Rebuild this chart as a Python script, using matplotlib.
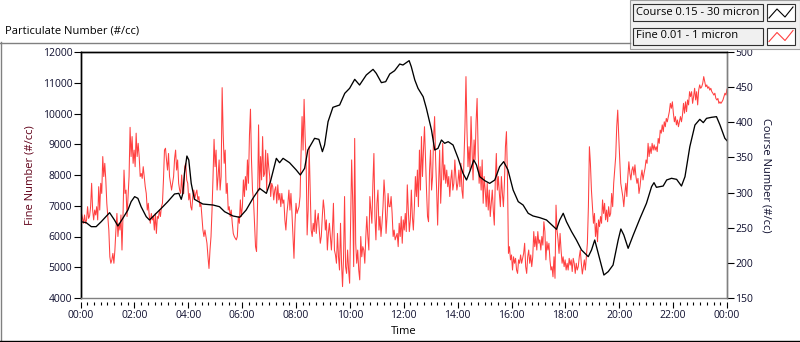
import matplotlib
matplotlib.use('Agg')
import matplotlib.pyplot as plt
from matplotlib.lines import Line2D
from matplotlib.patches import Rectangle
import numpy as np

plt.rcParams['font.family'] = ['Open Sans', 'DejaVu Sans']

# Fine particles (#/cc), left axis, evenly sampled over the day
fine = [
    6210, 6750, 6590, 6430, 6700, 6430, 6540, 6970, 6590, 6670, 6970, 7730, 6860, 6540, 6860, 6700,
    6970, 6540, 7620, 6860, 7730, 7400, 8600, 7950, 8380, 7840, 7080, 6650, 6210, 5340, 5130, 5240,
    5450, 5130, 5560, 6210, 6750, 6000, 6430, 6210, 6700, 5560, 6650, 8160, 7400, 7510, 6650, 7300,
    7950, 9550, 8600, 9250, 8380, 8810, 8270, 9360, 8600, 9030, 8600, 7950, 8050, 7890, 8270, 7950,
    7620, 7400, 6860, 7080, 6650, 6430, 6750, 6540, 6650, 6210, 6750, 6100, 6650, 6590, 6860, 6650,
    6970, 7080, 7840, 8810, 8870, 8490, 8160, 8700, 7950, 7730, 7510, 7730, 7950, 8540, 8810, 8160,
    8490, 7730, 7510, 7400, 8000, 7400, 7400, 8270, 8380, 7840, 7730, 7190, 7400, 6970, 6860, 7300,
    7510, 7240, 7400, 7510, 7190, 7300, 6970, 7080, 6650, 6210, 6000, 6210, 6000, 5780, 5340, 4960,
    5560, 6000, 6860, 7950, 9160, 8270, 8810, 7510, 7950, 8490, 7510, 7950, 10840, 9360, 8380, 8810,
    7400, 7730, 6860, 6970, 6650, 6860, 6430, 6100, 6000, 5940, 5890, 6000, 6650, 6430, 7190, 6650,
    6970, 7840, 7300, 7950, 7510, 8490, 7730, 9300, 10140, 8490, 7510, 7190, 6430, 5670, 5510, 7080,
    9630, 7510, 8600, 7840, 9250, 7950, 8050, 8810, 7510, 8700, 8270, 7950, 7300, 7730, 7620, 7190,
    7510, 7620, 7080, 7680, 7190, 7400, 6970, 7400, 7080, 7190, 6540, 6210, 6750, 7080, 7510, 6860,
    7400, 6750, 6000, 5290, 6430, 7080, 6750, 6860, 6970, 7300, 8700, 9900, 8810, 10460, 9250, 8490,
    6050, 6860, 8920, 7620, 6210, 6000, 6430, 6160, 6860, 6100, 6540, 6750, 6210, 5780, 6000, 6650,
    7190, 6860, 6210, 6540, 5560, 6100, 6430, 6000, 5560, 6210, 7080, 5560, 5400, 5130, 6100, 5340,
    4910, 6430, 5130, 4370, 5340, 7300, 5020, 4800, 5560, 4910, 4480, 6430, 8490, 7190, 5020, 9190,
    5780, 5130, 5560, 4910, 4590, 6000, 5340, 5670, 5560, 5130, 6000, 6650, 6000, 5560, 7300, 6860,
    6430, 7730, 8700, 6650, 5890, 7080, 7510, 6210, 6650, 6000, 6430, 6970, 7840, 7300, 6100, 6650,
    7400, 6970, 6970, 7300, 6750, 6000, 6210, 5890, 6000,
    6100, 5670, 6430, 6000, 6650, 5780, 6540, 6210, 6750, 6160, 7680, 6860, 6160, 6540, 7510, 6650,
    6210, 6970, 7950, 7300, 8160, 6970, 8810, 7510, 9250, 7950, 8810, 9570, 8490, 7510, 6650, 6480,
    8160, 8810, 7510, 7950, 9250, 9900, 8490, 7510, 6370, 7730, 8810, 7080, 7950, 9030, 7840, 8330,
    7730, 8160, 7620, 7950, 7300, 7840, 8160, 7510, 7730, 8490, 7950, 7510, 7730, 8160, 7620, 8380,
    7510, 7240, 8490, 9570, 11200, 9460, 8270, 8920, 8160, 9900, 8810, 7840, 9140, 8490, 9730, 10490,
    8810, 7730, 8270, 7510, 8490, 7080, 7950, 7510, 6970, 7730, 6860, 7510, 6650, 7080, 7510, 6860,
    6370, 7840, 8700, 7510, 7950, 7400, 6970, 7950, 7400, 6970, 7730, 8920, 9410, 7950, 5450, 5670,
    5240, 5400, 4910, 5340, 5130, 5290, 4910, 4800, 5240, 5130, 5400, 5130, 5290, 5450, 5780, 5020,
    4800, 5340, 5560, 5130, 5400, 5020, 5340, 6160, 5670, 6000, 5560, 6160, 5780, 5890, 5560, 6000,
    5720, 6480, 6160, 5240, 5830, 5560, 5780, 5240, 4910, 5020, 4690, 5340, 4640, 7020, 6210, 5890,
    5450, 6100, 5560, 5130, 5340, 5020, 5240, 4910, 5130, 4910, 5290, 5070, 5240, 4860, 5290, 5130,
    4800, 5130, 4910, 5020, 5340, 5560, 5130, 4780, 5020, 5240, 4910, 5340, 5780, 6970, 8920, 8380,
    7510, 6970, 6430, 6750, 6000, 6430, 5830, 6540, 6320, 6650, 6430, 7190, 6750, 7080, 6540, 6860,
    6480, 6970, 6650, 6750, 7400, 6970, 7730, 8160, 8600, 9570, 10110, 9250, 8490, 7730, 7510, 7300,
    6970, 7400, 7730, 7300, 7950, 8430, 8050, 7840, 8160, 8270, 8000, 8330, 7950, 7730, 7890, 7400,
    7620, 7950, 8160, 7840, 8050, 8220, 8490, 8380, 9030, 8600, 8920, 8700, 9030, 8810, 8980, 8810,
    8920, 8760, 9190, 9030, 9460, 9360, 9630, 9410, 9730, 9570, 9840, 9730, 9900, 10060, 10330, 10170,
    10380, 10010, 9730, 9900, 9630, 9790, 9570, 9730, 9900, 9730, 9950, 10330, 10010, 10380, 10060, 10440,
    10280, 10710, 10550, 10710, 10330, 10550, 10820, 10440, 10710, 10280, 10760, 10930, 10820, 10870, 10980, 11200,
    11040, 10870, 10930, 10820, 10870, 10760, 10820, 10710, 10660, 10600, 10660, 10490, 10440, 10490, 10330, 10380,
    10330, 10380, 10440, 10550, 10660, 10600, 10790,
]

# Course particles (#/cc), right axis
course_hours = [
    0, 0.21, 0.40, 0.58, 0.77, 1.08, 1.26, 1.39, 1.57, 1.76, 1.88, 2.01, 2.13, 2.25, 2.44, 2.56,
    2.75, 3.00, 3.24, 3.49, 3.65, 3.74, 3.80, 3.86, 3.95, 4.02, 4.11, 4.23, 4.54, 4.92, 5.16, 5.35,
    5.66, 5.91, 6.15, 6.40, 6.65, 6.90, 7.05, 7.27, 7.39, 7.52, 7.76, 8.01, 8.16, 8.32, 8.44, 8.69,
    8.85, 8.98, 9.06, 9.19, 9.37, 9.62, 9.81, 9.99, 10.18, 10.36, 10.61, 10.86, 10.98, 11.17, 11.33, 11.48,
    11.66, 11.85, 11.97, 12.20, 12.28, 12.41, 12.53, 12.72, 12.84, 13.03, 13.15, 13.27, 13.40, 13.52, 13.65, 13.83,
    14.02, 14.20, 14.33, 14.45, 14.60, 14.70, 14.82, 15.01, 15.19, 15.38, 15.56, 15.71, 15.87, 16.06, 16.25, 16.43,
    16.62, 16.80, 17.05, 17.30, 17.67, 17.79, 17.92, 18.04, 18.23, 18.41, 18.60, 18.85, 18.97, 19.09, 19.25, 19.43,
    19.59, 19.77, 19.96, 20.06, 20.17, 20.33, 20.52, 20.77, 21.01, 21.20, 21.29, 21.38, 21.63, 21.76, 21.94, 22.13,
    22.31, 22.44, 22.62, 22.81, 22.99, 23.12, 23.24, 23.43, 23.61, 23.74, 23.92, 24.0,
]
course = [
    258.6, 257.2, 251.5, 251.5, 258.6, 271.4, 261.0, 252.4, 263.3, 275.2, 287.1, 294.2, 291.8, 279.9, 265.7, 261.0,
    268.1, 277.6, 287.1, 298.0, 298.9, 290.4, 298.9, 327.4, 352.0, 346.3, 313.1, 290.4, 283.7, 282.3, 279.9, 272.8,
    266.7, 264.8, 275.2, 291.8, 306.0, 298.9, 315.5, 348.7, 342.5, 348.7, 342.5, 332.1, 325.0, 334.5, 360.6, 377.2,
    375.7, 358.2, 367.7, 400.9, 421.3, 424.6, 441.2, 448.3, 461.1, 453.0, 467.3, 475.3, 469.6, 456.4, 457.8, 468.7,
    473.4, 482.9, 481.5, 487.7, 479.1, 460.2, 448.3, 436.4, 419.9, 389.0, 360.6, 362.9, 374.8, 370.1, 372.4, 367.7,
    348.7, 327.4, 317.9, 329.7, 346.3, 339.2, 322.6, 316.9, 313.1, 317.9, 336.9, 344.0, 332.1, 303.7, 287.1, 282.3,
    270.5, 266.7, 264.3, 261.0, 247.7, 261.0, 270.5, 258.6, 244.4, 232.5, 218.3, 208.8, 218.3, 232.5, 208.8, 182.7,
    187.5, 196.9, 232.5, 248.2, 239.6, 220.7, 239.6, 263.3, 284.7, 308.4, 314.1, 307.5, 309.3, 317.9, 320.3, 318.8,
    309.3, 322.6, 365.3, 396.1, 404.2, 399.5, 405.6, 407.1, 408.0, 396.1, 377.2, 373.8,
]

time_labels = ['00:00', '02:00', '04:00', '06:00', '08:00', '10:00', '12:00',
               '14:00', '16:00', '18:00', '20:00', '22:00', '00:00']
legend_names = ['Course 0.15 - 30 micron', 'Fine 0.01 - 1 micron']

W, H = 800, 342
TXT = '#101030'
RED = '#ff4040'


def px(x, y):
    # pixel (from top-left) -> figure fraction
    return x / W, 1 - y / H


if __name__ == '__main__':
    fig = plt.figure(figsize=(8, 3.42), dpi=100)
    fig.patch.set_facecolor('white')

    ax = fig.add_axes([80.5 / W, 1 - 298 / H, (727 - 80.5) / W, (298 - 52) / H])
    ax2 = ax.twinx()

    fine_hours = np.linspace(0, 24, len(fine))
    ax.plot(fine_hours, fine, color=RED, lw=0.75)
    ax2.plot(course_hours, course, color='black', lw=0.95)

    ax.set_xlim(0, 24)
    ax.set_ylim(4000, 12000)
    ax2.set_ylim(150, 500)

    ax.set_yticks(np.arange(4000, 12001, 1000))
    ax2.set_yticks(np.arange(150, 501, 50))
    ax.set_xticks(np.arange(0, 25, 2))
    ax.set_xticklabels(time_labels)
    ax.set_xticks(np.arange(0, 24.01, 0.25), minor=True)

    ax.tick_params(axis='y', direction='out', length=5, width=0.8, labelsize=7.5,
                   labelcolor=TXT, pad=1)
    ax2.tick_params(axis='y', direction='out', length=5, width=0.8, labelsize=7.5,
                    labelcolor=TXT, pad=1)
    ax.tick_params(axis='x', which='major', direction='out', length=4, width=0.8,
                   labelsize=7.5, labelcolor=TXT, pad=2)
    ax.tick_params(axis='x', which='minor', direction='out', length=2, width=0.8)

    # frame: black top/left, gray bottom/right, ticks sit a little below
    for a in (ax, ax2):
        a.spines['top'].set_color('black')
        a.spines['left'].set_color('black')
        a.spines['right'].set_color('#808080')
        a.spines['bottom'].set_color('#808080')
        for s in a.spines.values():
            s.set_linewidth(1.0)
    ax.spines['bottom'].set_position(('outward', 3))
    ax.spines['bottom'].set_color('none')

    ax.set_xlabel('Time', fontsize=8, labelpad=3)
    ax.set_ylabel('Fine Number (#/cc)', fontsize=8, color='#600018', labelpad=5)
    ax2.set_ylabel('Course Number (#/cc)', fontsize=8, color=TXT, rotation=270, labelpad=13)

    # chart title
    x, y = px(5, 31)
    fig.text(x, y, 'Particulate Number (#/cc)', fontsize=8, va='center', ha='left')

    # outer panel border
    fig.add_artist(Line2D([px(0, 0)[0], px(630, 0)[0]], [px(0, 42.5)[1]] * 2,
                          color='#808080', lw=1.0))
    fig.add_artist(Line2D([px(0.5, 0)[0]] * 2, [px(0, 42)[1], px(0, 342)[1]],
                          color='#808080', lw=1.0))
    fig.add_artist(Line2D([0, 1], [px(0, 341)[1]] * 2, color='black', lw=1.0))

    # legend panel
    x0, y0 = px(630, 49)
    fig.add_artist(Rectangle((x0, y0), 170 / W, 49 / H, transform=fig.transFigure,
                             facecolor='#f0f0f0', edgecolor='#a0a0a0', lw=0.8))
    colors = ['black', RED]
    for i, (name, c) in enumerate(zip(legend_names, colors)):
        top = 4 + i * 23.5
        bx, by = px(633, top + 17)
        fig.add_artist(Rectangle((bx, by), 130 / W, 17 / H, transform=fig.transFigure,
                                 facecolor='#f0f0f0', edgecolor='#303030', lw=0.8))
        tx, ty = px(636, top + 8.5)
        fig.text(tx, ty, name, fontsize=8, va='center', ha='left', color='black')
        sx, sy = px(767, top + 17)
        fig.add_artist(Rectangle((sx, sy), 28 / W, 17 / H, transform=fig.transFigure,
                                 facecolor='white', edgecolor='#303030', lw=0.8))
        zx = [769, 777, 785, 793]
        zy = [top + 14, top + 5, top + 13, top + 3]
        fig.add_artist(Line2D([px(v, 0)[0] for v in zx], [px(0, v)[1] for v in zy],
                              color=c, lw=0.8))

    plt.savefig('out.png', dpi=100)
    plt.close()
